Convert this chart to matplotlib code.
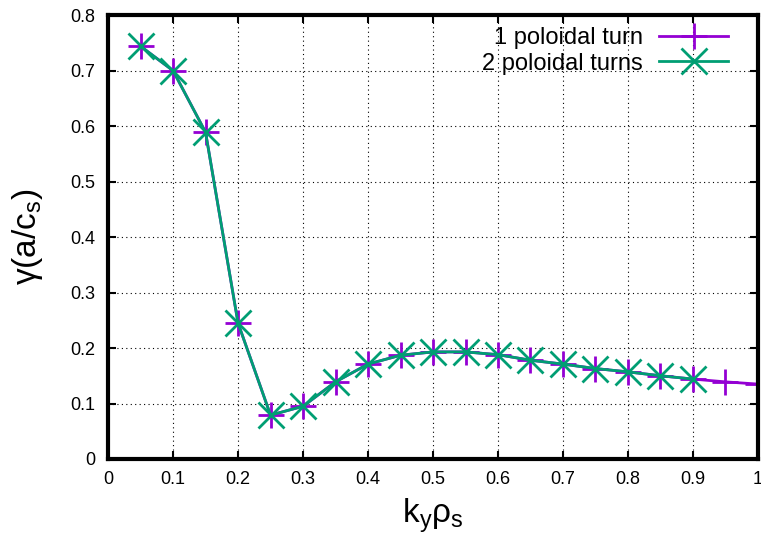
import matplotlib
matplotlib.use("Agg")
import matplotlib.pyplot as plt
import numpy as np

plt.rcParams['font.family'] = ['Liberation Sans', 'DejaVu Sans']
plt.rcParams['mathtext.fontset'] = 'custom'
plt.rcParams['mathtext.rm'] = 'Liberation Sans'
plt.rcParams['mathtext.it'] = 'Liberation Sans'

# growth rate vs k_y rho_s
ky_1 = [0.05, 0.10, 0.15, 0.20, 0.25, 0.30, 0.35, 0.40, 0.45, 0.50,
        0.55, 0.60, 0.65, 0.70, 0.75, 0.80, 0.85, 0.90, 0.95, 1.00]
gamma_1 = [0.744, 0.700, 0.589, 0.245, 0.079, 0.095, 0.139, 0.171, 0.187, 0.193,
           0.193, 0.188, 0.178, 0.171, 0.163, 0.157, 0.150, 0.144, 0.139, 0.135]
ky_2 = ky_1[:18]
gamma_2 = [0.744, 0.700, 0.589, 0.245, 0.079, 0.095, 0.139, 0.171, 0.187, 0.193,
           0.193, 0.188, 0.178, 0.171, 0.163, 0.157, 0.150, 0.144]

fig = plt.figure(figsize=(7.61, 5.36), dpi=100)
ax = fig.add_axes([0.142, 0.1437, 0.854, 0.828])

ax.plot(ky_1, gamma_1, color='#9400D3', lw=2, marker='+', ms=19, mew=2,
        label='1 poloidal turn')
ax.plot(ky_2, gamma_2, color='#009E73', lw=2, marker='x', ms=19, mew=2,
        label='2 poloidal turns')

ax.set_xlim(0, 1)
ax.set_ylim(0, 0.8)
ax.set_xticks(np.arange(0, 1.01, 0.1))
ax.set_yticks(np.arange(0, 0.81, 0.1))
ax.set_xticklabels(['0', '0.1', '0.2', '0.3', '0.4', '0.5', '0.6', '0.7', '0.8', '0.9', '1'])
ax.set_yticklabels(['0', '0.1', '0.2', '0.3', '0.4', '0.5', '0.6', '0.7', '0.8'])
ax.tick_params(direction='in', length=6, width=1.5, labelsize=13,
               top=True, right=True, pad=9)
ax.grid(True, color='black', linestyle=(0, (1, 3)), linewidth=0.8)
for s in ax.spines.values():
    s.set_linewidth(3)

ax.set_xlabel(r'k$_\mathregular{y}$ρ$_\mathregular{s}$', fontsize=24, labelpad=6)
ax.set_ylabel(r'γ(a/c$_\mathregular{s}$)', fontsize=24, labelpad=18)

ax.legend(loc='upper right', bbox_to_anchor=(627 / 650, 0.989), frameon=False,
          markerfirst=False, fontsize=17, handlelength=2.9, borderpad=0.3,
          labelspacing=0.15, handletextpad=0.7, borderaxespad=0)

fig.savefig('out.png', dpi=100)
